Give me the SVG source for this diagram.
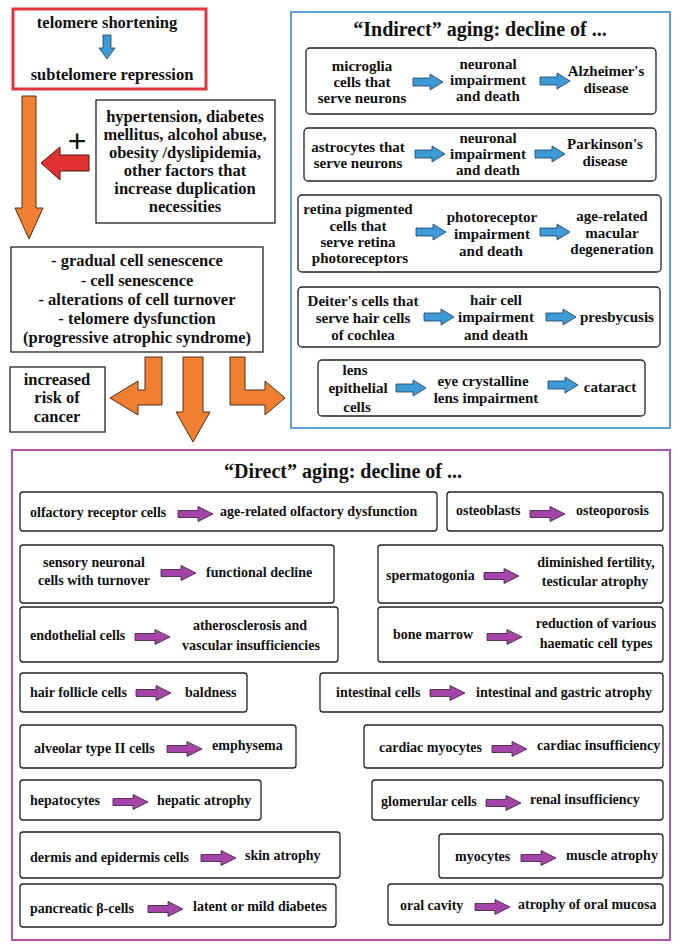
<svg xmlns="http://www.w3.org/2000/svg" xmlns:xlink="http://www.w3.org/1999/xlink" width="685" height="951" viewBox="0 0 685 951">
<style>
text{font-family:"Liberation Serif","Times New Roman","DejaVu Serif",serif;font-weight:bold;fill:#111}
.t{font-size:16.5px}
.i{font-size:15px}
.s{font-size:14px}
.m{text-anchor:middle}
.h{font-size:20px;text-anchor:middle}
.box{fill:#fff;stroke:#222;stroke-width:1.3}
.rb{fill:#fff;stroke:#222;stroke-width:1.3}
.or{fill:#F0802F;stroke:#4a3020;stroke-width:1}
</style>
<defs>
<path id="ba" d="M0,-4 H17 V-8 L30,0 L17,8 V4 H0 Z" fill="#3D9AD6" stroke="#1d3d5a" stroke-width="0.8"/>
<path id="pa" d="M0,-3.5 H20 V-7.5 L35,0 L20,7.5 V3.5 H0 Z" fill="#A443A8" stroke="#3a1a3a" stroke-width="0.8"/>
</defs>
<rect width="685" height="951" fill="#fff"/>
<g id="frames">
<rect x="13" y="9" width="193" height="80" fill="none" stroke="#E0343A" stroke-width="3"/>
<rect x="291" y="12" width="379" height="416" fill="none" stroke="#5BA3D6" stroke-width="2"/>
<rect x="12" y="450" width="658" height="490" fill="none" stroke="#B052B4" stroke-width="2"/>
</g>
<g id="top">
<text class="t m" x="107" y="28">telomere shortening</text>
<path d="M103,35 H111 V48 H115 L107,59 L99,48 H103 Z" fill="#3D9AD6" stroke="#1d3d5a" stroke-width="0.8"/>
<text class="t m" x="112" y="80">subtelomere repression</text>
</g>
<g id="factors">
<rect class="box" x="96" y="100" width="179" height="123"/>
<text class="t m" x="185" y="122">hypertension, diabetes</text>
<text class="t m" x="185" y="140">mellitus, alcohol abuse,</text>
<text class="t m" x="185" y="158">obesity /dyslipidemia,</text>
<text class="t m" x="185" y="176">other factors that</text>
<text class="t m" x="185" y="194">increase duplication</text>
<text class="t m" x="185" y="212">necessities</text>
</g>
<g id="senescence">
<rect class="box" x="11" y="247" width="252" height="105"/>
<text class="t m" x="137" y="266">- gradual cell senescence</text>
<text class="t m" x="137" y="286">- cell senescence</text>
<text class="t m" x="137" y="305">- alterations of cell turnover</text>
<text class="t m" x="137" y="324">- telomere dysfunction</text>
<text class="t m" x="137" y="343">(progressive atrophic syndrome)</text>
</g>
<g id="cancer">
<rect class="box" x="10" y="367" width="95" height="65"/>
<text class="t m" x="57" y="385">increased</text>
<text class="t m" x="57" y="403">risk of</text>
<text class="t m" x="57" y="422">cancer</text>
</g>
<g id="connectors">
<path class="or" d="M22,96 H36 V208 H43 L29,239 L15,208 H22 Z"/>
<path d="M89,155 V171 H60 V180 L41,163 L60,147 V155 Z" fill="#E0302F" stroke="#4a1a1a" stroke-width="1"/>
<text x="77" y="152" style="font-family:'Liberation Sans',Arial,sans-serif;font-weight:normal;font-size:32px" text-anchor="middle">+</text>
<path class="or" d="M145,357 H162 V405 H138 V415 L110,398 L138,381 V390 H145 Z"/>
<path class="or" d="M183,357 H203 V412 H210 L193,442 L176,412 H183 Z"/>
<path class="or" d="M230,357 H245 V390 H265 V381 L285,398 L265,415 V405 H230 Z"/>
</g>
<g id="indirect">
<text class="h" x="480" y="36">“Indirect” aging: decline of ...</text>
<g id="ind1">
<rect class="rb" x="306" y="48" width="350" height="66" rx="4"/>
<text class="i m" x="362" y="71">microglia</text><text class="i m" x="362" y="87">cells that</text><text class="i m" x="362" y="103">serve neurons</text>
<use xlink:href="#ba" x="413" y="82"/>
<text class="i m" x="488" y="69">neuronal</text><text class="i m" x="488" y="85">impairment</text><text class="i m" x="488" y="101">and death</text>
<use xlink:href="#ba" x="540" y="81"/>
<text class="i m" x="606" y="76">Alzheimer's</text><text class="i m" x="606" y="93">disease</text>
</g>
<g id="ind2">
<rect class="rb" x="304" y="128" width="352" height="53" rx="4"/>
<text class="i m" x="358" y="152">astrocytes that</text><text class="i m" x="358" y="168">serve neurons</text>
<use xlink:href="#ba" x="415" y="154"/>
<text class="i m" x="488" y="143">neuronal</text><text class="i m" x="488" y="159">impairment</text><text class="i m" x="488" y="175">and death</text>
<use xlink:href="#ba" x="535" y="154"/>
<text class="i m" x="605" y="149">Parkinson's</text><text class="i m" x="605" y="166">disease</text>
</g>
<g id="ind3">
<rect class="rb" x="298" y="195" width="363" height="77" rx="4"/>
<text class="i m" x="358" y="214">retina pigmented</text><text class="i m" x="358" y="231">cells  that</text><text class="i m" x="358" y="247">serve retina</text><text class="i m" x="360" y="263">photoreceptors</text>
<use xlink:href="#ba" x="416" y="232"/>
<text class="i m" x="492" y="222">photoreceptor</text><text class="i m" x="492" y="239">impairment</text><text class="i m" x="491" y="256">and death</text>
<use xlink:href="#ba" x="540" y="232"/>
<text class="i m" x="612" y="221">age-related</text><text class="i m" x="612" y="238">macular</text><text class="i m" x="612" y="254">degeneration</text>
</g>
<g id="ind4">
<rect class="rb" x="298" y="287" width="362" height="60" rx="4"/>
<text class="i m" x="363" y="306">Deiter's cells that</text><text class="i m" x="363" y="323">serve hair cells</text><text class="i m" x="363" y="340">of cochlea</text>
<use xlink:href="#ba" x="424" y="317"/>
<text class="i m" x="496" y="305">hair cell</text><text class="i m" x="496" y="322">impairment</text><text class="i m" x="496" y="340">and death</text>
<use xlink:href="#ba" x="546" y="317"/>
<text class="i m" x="617" y="322">presbycusis</text>
</g>
<g id="ind5">
<rect class="rb" x="318" y="360" width="327" height="56" rx="4"/>
<text class="i m" x="355" y="375">lens</text><text class="i m" x="358" y="393">epithelial</text><text class="i m" x="357" y="412">cells</text>
<use xlink:href="#ba" x="396" y="388"/>
<text class="i m" x="483" y="386">eye crystalline</text><text class="i m" x="486" y="403">lens  impairment</text>
<use xlink:href="#ba" x="548" y="385"/>
<text class="i m" x="610" y="392">cataract</text>
</g>
</g>
<g id="direct">
<text class="h" x="343" y="478">“Direct” aging: decline of ...</text>
<g id="d1"><rect class="rb" x="20" y="492" width="417" height="39" rx="3"/><text class="s" x="30" y="517">olfactory receptor cells</text><use xlink:href="#pa" x="178" y="514"/><text class="s" x="220" y="516">age-related  olfactory dysfunction</text></g>
<g id="d2"><rect class="rb" x="447" y="492" width="216" height="39" rx="3"/><text class="s" x="456" y="515">osteoblasts</text><use xlink:href="#pa" x="530" y="514"/><text class="s" x="576" y="515">osteoporosis</text></g>
<g id="d3"><rect class="rb" x="20" y="545" width="314" height="58" rx="3"/><text class="s m" x="94" y="567">sensory neuronal</text><text class="s m" x="94" y="585">cells with turnover</text><use xlink:href="#pa" x="161" y="573"/><text class="s" x="206" y="577">functional  decline</text></g>
<g id="d4"><rect class="rb" x="378" y="545" width="285" height="58" rx="3"/><text class="s" x="386" y="580">spermatogonia</text><use xlink:href="#pa" x="484" y="576"/><text class="s m" x="596" y="567">diminished fertility,</text><text class="s m" x="595" y="586">testicular atrophy</text></g>
<g id="d5"><rect class="rb" x="20" y="607" width="318" height="55" rx="3"/><text class="s" x="30" y="640">endothelial cells</text><use xlink:href="#pa" x="135" y="637"/><text class="s m" x="250" y="630">atherosclerosis and</text><text class="s m" x="251" y="650">vascular insufficiencies</text></g>
<g id="d6"><rect class="rb" x="378" y="607" width="285" height="55" rx="3"/><text class="s" x="393" y="639">bone marrow</text><use xlink:href="#pa" x="487" y="637"/><text class="s m" x="596" y="628">reduction of various</text><text class="s m" x="596" y="648">haematic cell types</text></g>
<g id="d7"><rect class="rb" x="20" y="673" width="227" height="39" rx="3"/><text class="s" x="30" y="697">hair follicle cells</text><use xlink:href="#pa" x="136" y="693"/><text class="s" x="185" y="697">baldness</text></g>
<g id="d8"><rect class="rb" x="320" y="673" width="343" height="39" rx="3"/><text class="s" x="336" y="697">intestinal cells</text><use xlink:href="#pa" x="430" y="693"/><text class="s" x="476" y="697">intestinal and gastric  atrophy</text></g>
<g id="d9"><rect class="rb" x="20" y="725" width="276" height="43" rx="3"/><text class="s" x="34" y="753">alveolar type II cells</text><use xlink:href="#pa" x="167" y="749"/><text class="s" x="212" y="750">emphysema</text></g>
<g id="d10"><rect class="rb" x="364" y="725" width="299" height="43" rx="3"/><text class="s" x="379" y="752">cardiac myocytes</text><use xlink:href="#pa" x="492" y="749"/><text class="s" x="537" y="750">cardiac insufficiency</text></g>
<g id="d11"><rect class="rb" x="20" y="780" width="241" height="40" rx="3"/><text class="s" x="30" y="805">hepatocytes</text><use xlink:href="#pa" x="113" y="802"/><text class="s" x="157" y="805">hepatic atrophy</text></g>
<g id="d12"><rect class="rb" x="372" y="780" width="291" height="40" rx="3"/><text class="s" x="381" y="806">glomerular cells</text><use xlink:href="#pa" x="486" y="803"/><text class="s" x="530" y="804">renal insufficiency</text></g>
<g id="d13"><rect class="rb" x="20" y="832" width="320" height="46" rx="3"/><text class="s" x="30" y="862">dermis and epidermis cells</text><use xlink:href="#pa" x="201" y="858"/><text class="s" x="245" y="860">skin atrophy</text></g>
<g id="d14"><rect class="rb" x="439" y="834" width="224" height="44" rx="3"/><text class="s" x="455" y="861">myocytes</text><use xlink:href="#pa" x="521" y="858"/><text class="s" x="566" y="860">muscle atrophy</text></g>
<g id="d15"><rect class="rb" x="20" y="884" width="316" height="43" rx="3"/><text class="s" x="30" y="913">pancreatic β-cells</text><use xlink:href="#pa" x="148" y="909"/><text class="s" x="193" y="911">latent or mild diabetes</text></g>
<g id="d16"><rect class="rb" x="388" y="884" width="275" height="41" rx="3"/><text class="s" x="400" y="910">oral cavity</text><use xlink:href="#pa" x="475" y="907"/><text class="s" x="518" y="909">atrophy of oral mucosa</text></g>
</g>
</svg>
